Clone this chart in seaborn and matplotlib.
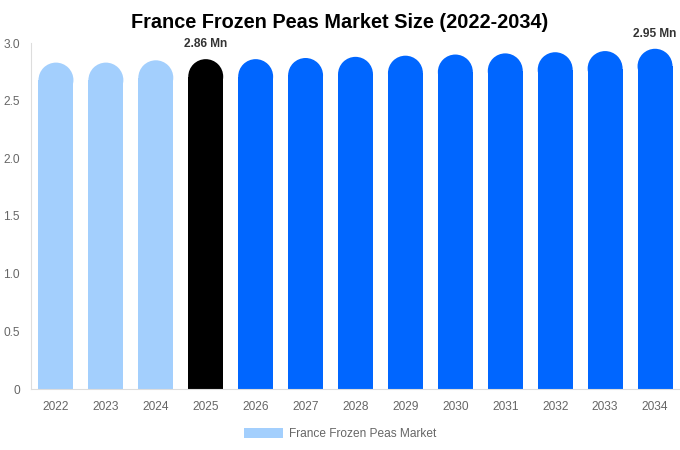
import matplotlib
matplotlib.use("Agg")
import matplotlib.pyplot as plt
from matplotlib.patches import Rectangle, Ellipse, Patch
import seaborn as sns
import pandas as pd

years = ["2022", "2023", "2024", "2025", "2026", "2027", "2028",
         "2029", "2030", "2031", "2032", "2033", "2034"]
values = [2.83, 2.83, 2.85, 2.86, 2.86, 2.87, 2.88, 2.89, 2.90, 2.91, 2.92, 2.93, 2.95]
bar_colors = ["#a3cffd"] * 3 + ["#000000"] + ["#0066ff"] * 9
labelled = {"2025": "2.86 Mn", "2034": "2.95 Mn"}
yticks = [0, 0.5, 1.0, 1.5, 2.0, 2.5, 3.0]
ytick_labels = ["0", "0.5", "1.0", "1.5", "2.0", "2.5", "3.0"]

sns.set_style("white")
plt.rcParams["font.family"] = ["Liberation Sans", "DejaVu Sans"]

df = pd.DataFrame({"year": years, "value": values})

fig = plt.figure(figsize=(6.8, 4.5), dpi=100)
ax = fig.add_axes([31 / 680, 1 - 389 / 450, 649 / 680, 346 / 450])

sns.barplot(data=df, x="year", y="value", hue="year", palette=bar_colors,
            width=0.7, legend=False, ax=ax, saturation=1)
ax.set_xlim(-0.5, 12.5)
ax.set_ylim(0, 3.0)

# swap plain bars for ones with a semicircular top
bbox = ax.get_window_extent()
px_x = bbox.width / 13.0
px_y = bbox.height / 3.0
for p in list(ax.patches):
    x0, w, h = p.get_x(), p.get_width(), p.get_height()
    fc = p.get_facecolor()
    p.remove()
    r_y = (w / 2) * px_x / px_y
    ax.add_patch(Rectangle((x0, 0), w, h - r_y, facecolor=fc,
                           edgecolor="none", linewidth=0))
    ax.add_patch(Ellipse((x0 + w / 2, h - r_y), w, 2 * r_y, facecolor=fc,
                         edgecolor="none", linewidth=0))

for i, (yr, v) in enumerate(zip(years, values)):
    if yr in labelled:
        ax.text(i, v + 0.08, labelled[yr], ha="center", va="bottom",
                fontsize=8.6, fontweight="bold", color="#333333", clip_on=False)

ax.set_yticks(yticks)
ax.set_yticklabels(ytick_labels)
ax.tick_params(axis="both", length=0, labelsize=8.6, colors="#666666")
ax.tick_params(axis="x", pad=9)
ax.tick_params(axis="y", pad=8)
ax.set_xlabel("")
ax.set_ylabel("")
for side in ["top", "right"]:
    ax.spines[side].set_visible(False)
for side in ["left", "bottom"]:
    ax.spines[side].set_color("#dddddd")
    ax.spines[side].set_linewidth(0.8)

fig.suptitle("France Frozen Peas Market Size (2022-2034)", fontsize=14.3,
             fontweight="bold", x=0.5, y=0.972, va="top", color="#000000")

handles = [Patch(facecolor="#a3cffd", edgecolor="none")]
fig.legend(handles, ["France Frozen Peas Market"], loc="center",
           bbox_to_anchor=(0.5, 1 - 434 / 450), frameon=False, fontsize=8.6,
           labelcolor="#666666", handlelength=3.3, handleheight=0.9,
           handletextpad=0.5)

fig.savefig("out.png", dpi=100)
